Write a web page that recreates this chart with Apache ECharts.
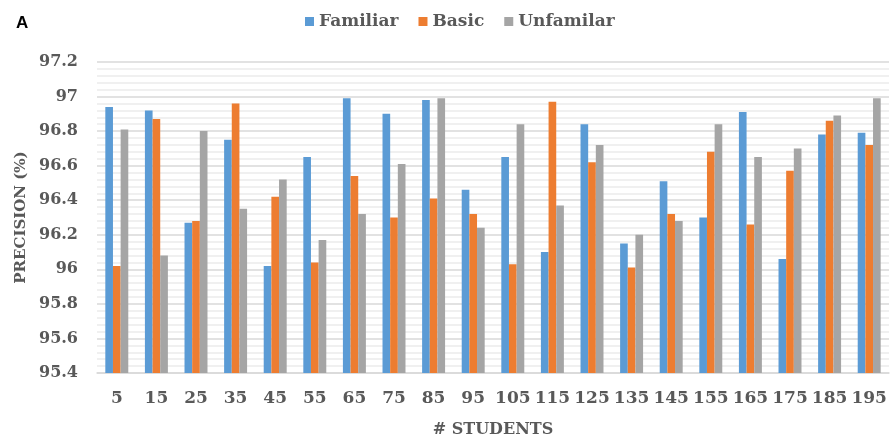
<!DOCTYPE html>
<html>
<head>
<meta charset="utf-8">
<script src="https://cdn.jsdelivr.net/npm/echarts@6/dist/echarts.min.js"></script>
<style>
  html, body { margin: 0; padding: 0; background: #fff; }
  #main { width: 891px; height: 439px; }
</style>
</head>
<body>
<div id="main"></div>
<script>
// 学生数量（横轴类目）
const students = ["5", "15", "25", "35", "45", "55", "65", "75", "85", "95",
  "105", "115", "125", "135", "145", "155", "165", "175", "185", "195"];
const familiar = [96.94, 96.92, 96.27, 96.75, 96.02, 96.65, 96.99, 96.90, 96.98, 96.46,
  96.65, 96.10, 96.84, 96.15, 96.51, 96.30, 96.91, 96.06, 96.78, 96.79];
const basic = [96.02, 96.87, 96.28, 96.96, 96.42, 96.04, 96.54, 96.30, 96.41, 96.32,
  96.03, 96.97, 96.62, 96.01, 96.32, 96.68, 96.26, 96.57, 96.86, 96.72];
const unfamilar = [96.81, 96.08, 96.80, 96.35, 96.52, 96.17, 96.32, 96.61, 96.99, 96.24,
  96.84, 96.37, 96.72, 96.20, 96.28, 96.84, 96.65, 96.70, 96.89, 96.99];

const labelFont = "DejaVu Serif";
const chart = echarts.init(document.getElementById("main"));

const option = {
  animation: false,
  title: {
    text: "A",
    left: 11,
    top: 10,
    textStyle: { fontFamily: "Liberation Sans", fontWeight: "bold", fontSize: 17, color: "#000" }
  },
  legend: {
    top: 8,
    left: 300,
    itemWidth: 9,
    itemHeight: 9,
    itemGap: 20,
    icon: "rect",
    textStyle: { fontFamily: labelFont, fontWeight: "bold", fontSize: 17, color: "#595959" },
    data: ["Familiar", "Basic", "Unfamilar"]
  },
  grid: { left: 97, right: 2, top: 62, bottom: 66, outerBoundsMode: "none" },
  xAxis: {
    type: "category",
    data: students,
    name: "# STUDENTS",
    nameLocation: "middle",
    nameGap: 49,
    nameTextStyle: { fontFamily: labelFont, fontWeight: "bold", fontSize: 16, color: "#595959" },
    axisLine: { lineStyle: { color: "#d9d9d9", width: 1.5 } },
    axisTick: { show: false },
    axisLabel: { margin: 17, fontFamily: labelFont, fontWeight: "bold", fontSize: 17, color: "#595959", interval: 0 }
  },
  yAxis: {
    type: "value",
    min: 95.4,
    max: 97.2,
    interval: 0.2,
    name: "PRECISION (%)",
    nameLocation: "middle",
    nameGap: 66,
    nameTextStyle: { fontFamily: labelFont, fontWeight: "bold", fontSize: 15, color: "#595959" },
    axisLine: { show: false },
    axisTick: { show: false },
    axisLabel: {
      margin: 19,
      fontFamily: labelFont, fontWeight: "bold", fontSize: 16, color: "#595959",
      formatter: v => String(parseFloat(v.toFixed(1)))
    },
    splitLine: { lineStyle: { color: "#d9d9d9", width: 1.5 } },
    minorTick: { show: false, splitNumber: 5 },
    minorSplitLine: { show: true, lineStyle: { color: "#ebebeb", width: 1.5 } }
  },
  series: [
    { name: "Familiar", type: "bar", data: familiar, barGap: "0%", barCategoryGap: "42%", itemStyle: { color: "#5b9bd5" } },
    { name: "Basic", type: "bar", data: basic, itemStyle: { color: "#ed7d31" } },
    { name: "Unfamilar", type: "bar", data: unfamilar, itemStyle: { color: "#a5a5a5" } }
  ]
};
chart.setOption(option);
</script>
</body>
</html>
